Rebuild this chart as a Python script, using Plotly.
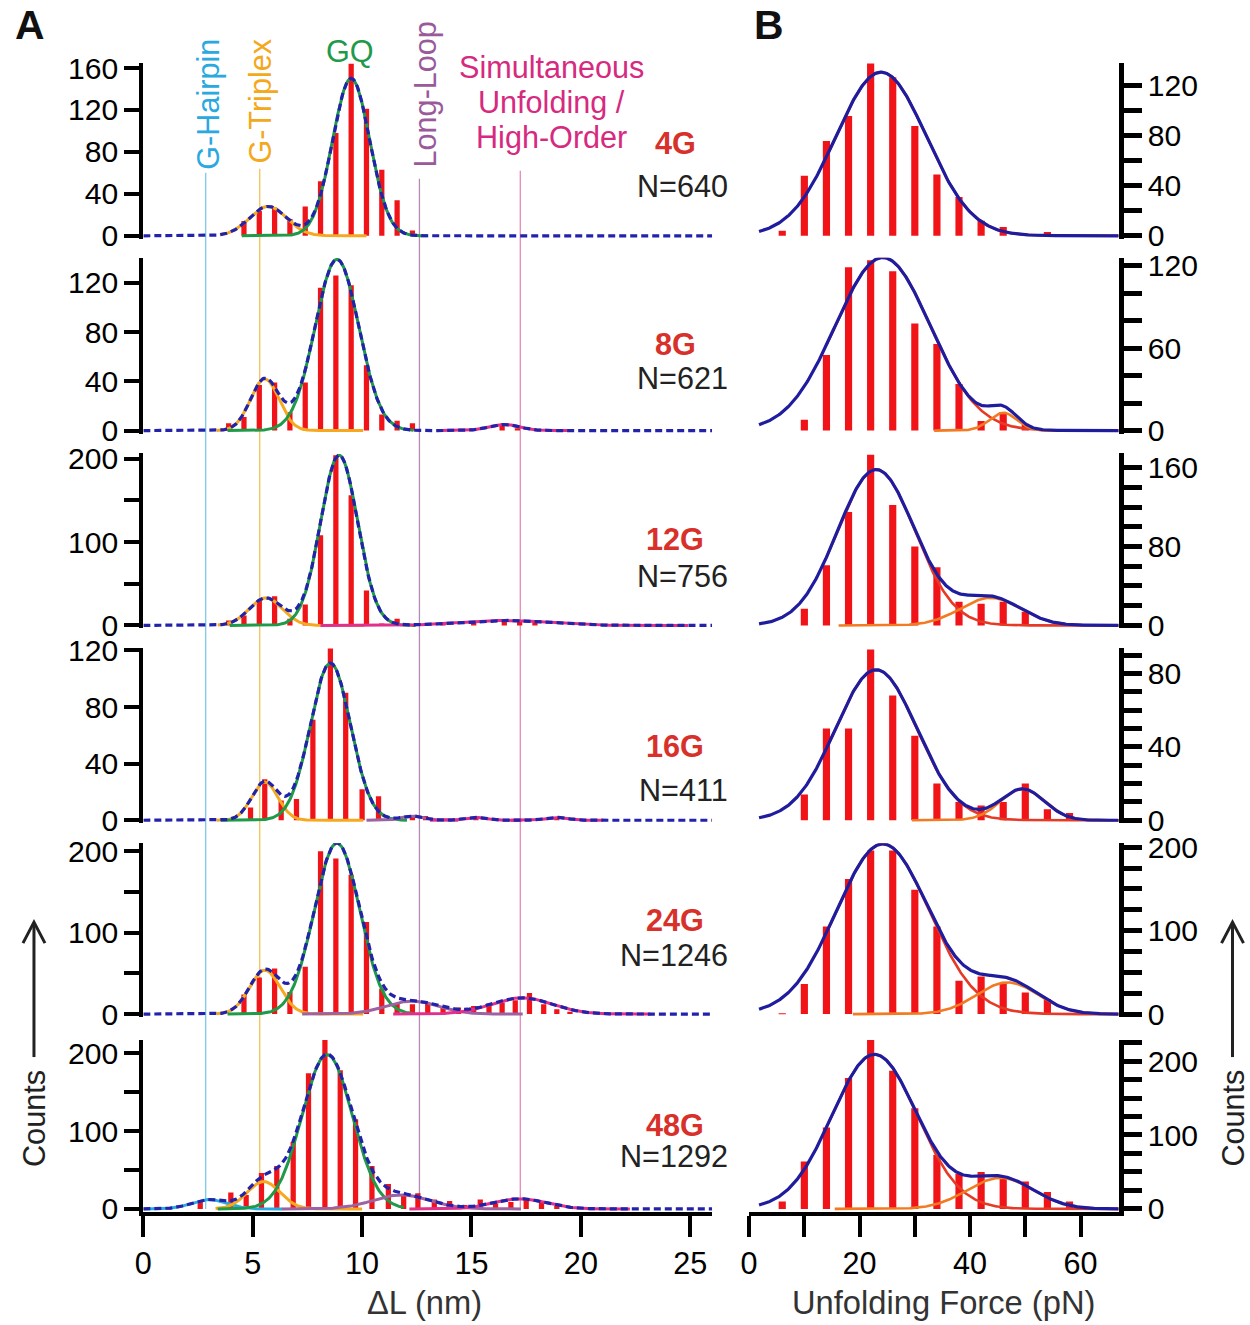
import numpy as np
import plotly.graph_objects as go

W, H = 1250, 1325

# ---------------- data ----------------
ROW_NAMES = ["4G", "8G", "12G", "16G", "24G", "48G"]
ROW_N = ["N=640", "N=621", "N=756", "N=411", "N=1246", "N=1292"]

# Panel A: ΔL histograms (bin centre nm, counts)
DL_4G_X = [4.6, 5.3, 6.0, 6.7, 7.4, 8.1, 8.8, 9.5, 10.2, 10.9, 11.6, 12.3]
DL_4G_Y = [14, 24, 27, 16, 28, 52, 98, 164, 121, 63, 34, 5]
DL_8G_X = [3.9, 4.6, 5.3, 6.0, 6.7, 7.4, 8.1, 8.8, 9.5, 10.2, 10.9, 11.6, 12.3, 16.4, 17.1]
DL_8G_Y = [6, 11, 37, 39, 15, 39, 116, 126, 118, 53, 13, 8, 6, 4, 2]
DL_12G_X = [3.9, 4.6, 5.3, 6.0, 6.7, 7.4, 8.1, 8.8, 9.5, 10.2, 10.9, 11.6, 13.7, 15.1, 16.5, 17.2, 17.9]
DL_12G_Y = [6, 12, 30, 35, 8, 25, 108, 204, 156, 42, 2, 8, 3, 4, 6, 6, 4]
DL_16G_X = [4.9, 5.55, 6.3, 7.0, 7.75, 8.55, 9.25, 10.0, 10.75, 12.3, 12.9, 15.2, 18.9]
DL_16G_Y = [9, 29, 14, 15, 71, 122, 90, 22, 17, 3, 3, 2, 2]
DL_24G_X = [4.6, 5.3, 6.0, 6.7, 7.4, 8.1, 8.8, 9.5, 10.2, 10.9, 11.6, 12.3, 13.0, 13.7,
            14.4, 15.1, 15.8, 16.4, 17.0, 17.65, 18.3, 18.9, 19.5]
DL_24G_Y = [24, 45, 56, 27, 58, 200, 191, 171, 113, 31, 13, 12, 14, 8,
            8, 10, 13, 14, 17, 26, 12, 6, 3]
DL_48G_X = [2.6, 4.0, 4.7, 5.4, 6.1, 6.85, 7.55, 8.3, 9.0, 9.7, 10.45, 11.2, 11.9, 12.55,
            13.3, 14.0, 14.7, 15.4, 16.1, 16.8, 17.5, 18.2, 18.9]
DL_48G_Y = [9, 21, 18, 46, 55, 86, 174, 220, 178, 115, 55, 32, 18, 20,
            12, 10, 5, 12, 7, 9, 12, 8, 4]

# Gaussian fit components: (population, amplitude, centre, sigma)
FIT_DL_4G = [("triplex", 28, 5.7, 0.85), ("gq", 150, 9.5, 0.85)]
FIT_DL_8G = [("triplex", 42, 5.55, 0.65), ("gq", 139, 8.85, 1.0), ("high", 5, 16.5, 0.7)]
FIT_DL_12G = [("triplex", 33, 5.6, 0.75), ("gq", 204, 8.95, 0.85), ("high", 6, 16.5, 2.0)]
FIT_DL_16G = [("triplex", 27, 5.55, 0.6), ("gq", 111, 8.55, 0.92), ("loop", 3, 12.3, 0.5),
              ("high", 2, 15.2, 0.5), ("high", 2, 18.9, 0.5)]
FIT_DL_24G = [("triplex", 54, 5.55, 0.7), ("gq", 210, 8.85, 1.04), ("loop", 16, 12.3, 1.2),
              ("high", 20, 17.3, 1.4)]
FIT_DL_48G = [("hairpin", 12, 3.0, 0.8), ("triplex", 35, 5.5, 0.75), ("gq", 198, 8.4, 1.15),
              ("loop", 18, 11.8, 1.3), ("high", 13, 17.2, 1.2)]

# Panel B: unfolding-force histograms
FORCE_BINS = [6, 10, 14, 18, 22, 26, 30, 34, 38, 42, 46, 50, 54, 58]
F_4G = [4, 48, 76, 96, 138, 127, 88, 49, 31, 12, 7, 0, 3, 0]
F_8G = [0, 8, 55, 119, 124, 116, 78, 63, 34, 7, 13, 5, 0, 0]
F_12G = [0, 17, 61, 115, 173, 122, 80, 59, 24, 22, 24, 14, 0, 0]
F_16G = [0, 14, 50, 50, 93, 68, 46, 20, 10, 8, 10, 20, 6, 4]
F_24G = [1, 36, 105, 162, 196, 196, 149, 105, 40, 45, 37, 26, 18, 0]
F_48G = [10, 64, 110, 177, 231, 187, 136, 73, 48, 50, 44, 37, 23, 10]

FIT_F_4G = [("main", 131, 23.9, 8.2)]
FIT_F_8G = [("main", 126, 24.2, 8.6), ("second", 13, 46.0, 2.5)]
FIT_F_12G = [("main", 158, 23.0, 7.0), ("second", 28, 43.7, 5.5)]
FIT_F_16G = [("main", 82, 23.0, 7.4), ("second", 17, 49.5, 4.0)]
FIT_F_24G = [("main", 204, 24.2, 8.4), ("second", 38, 46.8, 5.6)]
FIT_F_48G = [("main", 209, 22.7, 7.7), ("second", 42, 45.5, 6.0)]

# reference lines for the populations (ΔL, nm)
REF_LINES = {"hairpin": 2.85, "triplex": 5.32, "loop": 12.62, "high": 17.23}

# ---------------- styling / layout ----------------
DL_X = [DL_4G_X, DL_8G_X, DL_12G_X, DL_16G_X, DL_24G_X, DL_48G_X]
DL_Y = [DL_4G_Y, DL_8G_Y, DL_12G_Y, DL_16G_Y, DL_24G_Y, DL_48G_Y]
FIT_DL = [FIT_DL_4G, FIT_DL_8G, FIT_DL_12G, FIT_DL_16G, FIT_DL_24G, FIT_DL_48G]
F_Y = [F_4G, F_8G, F_12G, F_16G, F_24G, F_48G]
FIT_F = [FIT_F_4G, FIT_F_8G, FIT_F_12G, FIT_F_16G, FIT_F_24G, FIT_F_48G]

RED = "#f01418"
COMP_COL = {"hairpin": "#29abe2", "triplex": "#f6a81e", "gq": "#1e9a48",
            "loop": "#9c62a2", "high": "#e0308c",
            "main": "#e63a26", "second": "#f27a22"}
TOTAL_DASH = "#2222aa"
TOTAL_SOLID = "#1f1c9e"

# (zero pixel, px per count, top pixel, major dtick, minor dtick) - positions in target pixels
LEFT_ROWS = [(235, 1.05, 62, 40, None), (430, 1.233, 257, 40, None), (625, 0.835, 452, 100, 50),
             (820, 1.417, 648, 40, None), (1014, 0.815, 843, 100, 50), (1209, 0.78, 1040, 100, 50)]
RIGHT_ROWS = [(235, 1.25, 62, 40, 20), (430, 1.375, 257, 60, 20), (625, 0.9875, 452, 80, 20),
              (820, 1.8375, 648, 40, 10), (1014, 0.835, 843, 100, 25), (1209, 0.74, 1040, 100, 25)]

LX = (141.5, 711.0)
LRANGE = [0, 26]
RX = (748.0, 1118.0)
RRANGE = [0, 66.9]

FONT = "Liberation Sans, Arial, sans-serif"
NARROW = "Liberation Sans Narrow, Arial Narrow, Liberation Sans, Arial, sans-serif"

# calibration of the rendered page (observed = offset + scale * specified)
OX, SX = 7.0, 0.994
OY, SY = 14.0, 0.979


def px(x):
    return ((x - OX) / SX) / W


def py(y):
    return 1 - ((y - OY) / SY) / H


def fs(s):
    return round(s / SY, 1)


def gauss(x, a, m, s):
    return a * np.exp(-0.5 * ((x - m) / s) ** 2)


fig = go.Figure()
layout = {}

for i in range(6):
    # ---- left (ΔL) ----
    n = i + 1
    xa, ya = ("x" if n == 1 else f"x{n}"), ("y" if n == 1 else f"y{n}")
    fig.add_trace(go.Bar(x=DL_X[i], y=DL_Y[i], width=0.24, marker=dict(color=RED, line=dict(width=0)),
                         xaxis=xa, yaxis=ya, showlegend=False))
    xx = np.linspace(LRANGE[0], LRANGE[1], 600)
    total = np.zeros_like(xx)
    for kind, a, m, s in FIT_DL[i]:
        total += gauss(xx, a, m, s)
    for kind, a, m, s in FIT_DL[i]:
        lo, hi = m - 4.2 * s, m + 4.2 * s
        if kind == "gq":
            lo, hi = m - 5.0, m + 3.5
        if kind == "triplex":
            lo, hi = m - 2.2, m + 4.5
        xc = np.linspace(max(lo, 0), hi, 200)
        fig.add_trace(go.Scatter(x=xc, y=gauss(xc, a, m, s), mode="lines",
                                 line=dict(color=COMP_COL[kind], width=3),
                                 xaxis=xa, yaxis=ya, showlegend=False, hoverinfo="skip"))
    fig.add_trace(go.Scatter(x=xx, y=total, mode="lines",
                             line=dict(color=TOTAL_DASH, width=3.2, dash="7px,4px"),
                             xaxis=xa, yaxis=ya, showlegend=False, hoverinfo="skip"))

    zero, sc, top, dt, mdt = LEFT_ROWS[i]
    bottom = zero + 3
    yax = dict(domain=[py(bottom), py(top)], range=[-(bottom - zero) / sc, (zero - top) / sc],
               anchor=xa, showline=True, linewidth=4, linecolor="black", ticks="outside",
               ticklen=15, tickwidth=4, tickcolor="black", tick0=0, dtick=dt,
               showgrid=False, zeroline=False,
               tickfont=dict(family=FONT, size=fs(29.5), color="black"))
    if mdt:
        yax["minor"] = dict(ticks="outside", dtick=mdt, ticklen=15, tickwidth=4, tickcolor="black",
                            showgrid=False)
    xax = dict(domain=[px(LX[0]), px(LX[1])], range=LRANGE, anchor=ya, showgrid=False,
               zeroline=False)
    if i == 5:
        xax.update(showline=True, linewidth=4, linecolor="black", ticks="outside", ticklen=21,
                   tickwidth=4, tickcolor="black", tick0=0, dtick=5,
                   tickfont=dict(family=NARROW, size=fs(30), color="black"))
    else:
        xax.update(showline=False, showticklabels=False, ticks="")
    layout["xaxis" if n == 1 else f"xaxis{n}"] = xax
    layout["yaxis" if n == 1 else f"yaxis{n}"] = yax

    # ---- right (force) ----
    n = i + 7
    xa, ya = f"x{n}", f"y{n}"
    fig.add_trace(go.Bar(x=FORCE_BINS, y=F_Y[i], width=1.3, marker=dict(color=RED, line=dict(width=0)),
                         xaxis=xa, yaxis=ya, showlegend=False))
    xx = np.linspace(1.8, RRANGE[1], 400)
    total = np.zeros_like(xx)
    for kind, a, m, s in FIT_F[i]:
        total += gauss(xx, a, m, s)
    for kind, a, m, s in FIT_F[i]:
        lo = 14 if kind == "main" else m - 5 * s
        hi = RRANGE[1] if kind == "main" else min(m + 4.5 * s, RRANGE[1])
        xc = np.linspace(lo, hi, 300)
        fig.add_trace(go.Scatter(x=xc, y=gauss(xc, a, m, s), mode="lines",
                                 line=dict(color=COMP_COL[kind], width=2.6),
                                 xaxis=xa, yaxis=ya, showlegend=False, hoverinfo="skip"))
    fig.add_trace(go.Scatter(x=xx, y=total, mode="lines", line=dict(color=TOTAL_SOLID, width=3.2),
                             xaxis=xa, yaxis=ya, showlegend=False, hoverinfo="skip"))

    zero, sc, top, dt, mdt = RIGHT_ROWS[i]
    bottom = zero + 3
    yax = dict(domain=[py(bottom), py(top)], range=[-(bottom - zero) / sc, (zero - top) / sc],
               anchor=xa, side="right", showline=True, linewidth=5, linecolor="black",
               ticks="outside", ticklen=18, tickwidth=5, tickcolor="black", tick0=0, dtick=dt,
               showgrid=False, zeroline=False,
               tickfont=dict(family=FONT, size=fs(29.5), color="black"),
               minor=dict(ticks="outside", dtick=mdt, ticklen=18, tickwidth=5, tickcolor="black",
                          showgrid=False))
    xax = dict(domain=[px(RX[0]), px(RX[1])], range=RRANGE, anchor=ya, showgrid=False,
               zeroline=False)
    if i == 5:
        xax.update(showline=True, linewidth=4, linecolor="black", ticks="outside", ticklen=21,
                   tickwidth=4, tickcolor="black", tick0=0, dtick=20,
                   minor=dict(ticks="outside", dtick=10, ticklen=21, tickwidth=4, tickcolor="black"),
                   tickfont=dict(family=NARROW, size=fs(30), color="black"))
    else:
        xax.update(showline=False, showticklabels=False, ticks="")
    layout[f"xaxis{n}"] = xax
    layout[f"yaxis{n}"] = yax

# ---------------- reference lines ----------------
REF_TOPS = {"hairpin": 172, "triplex": 168, "loop": 178, "high": 170}
REF_COL = {"hairpin": "#7fcbe8", "triplex": "#f4c25a", "loop": "#b58ab5", "high": "#e58ab8"}
shapes = []
for k, v in REF_LINES.items():
    shapes.append(dict(type="line", xref="x", yref="paper", x0=v, x1=v, y0=py(1209), y1=py(REF_TOPS[k]),
                       line=dict(color=REF_COL[k], width=1.3), layer="below"))

# Counts arrows
for cx in (32, 1232):
    shapes.append(dict(type="line", xref="paper", yref="paper", x0=px(cx), x1=px(cx),
                       y0=py(1057), y1=py(923), line=dict(color="#222", width=3)))
    shapes.append(dict(type="path", xref="paper", yref="paper",
                       path=f"M {px(cx-11)},{py(943)} L {px(cx)},{py(922)} L {px(cx+11)},{py(943)}",
                       line=dict(color="#222", width=3)))

# ---------------- annotations ----------------
ann = []


def add_text(text, x, y, size, color, bold=False, angle=0, xanchor="center", family=FONT):
    t = f"<b>{text}</b>" if bold else text
    ann.append(dict(text=t, x=px(x), y=py(y), xref="paper", yref="paper", showarrow=False,
                    xanchor=xanchor, yanchor="middle", textangle=angle,
                    font=dict(family=family, size=fs(size), color=color)))


add_text("A", 28, 24, 40, "#111", bold=True)
add_text("B", 768, 24, 40, "#111", bold=True)
add_text("G-Hairpin", 207, 103, 30, "#2aa8e0", angle=-90)
add_text("G-Triplex", 259, 100, 30, "#f4a81c", angle=-90)
add_text("GQ", 348, 50, 30, "#1f9a4a")
add_text("Long-Loop", 424, 93, 30, "#9a5a9a", angle=-90)
add_text("Simultaneous", 550, 66, 30, "#d62a80")
add_text("Unfolding /", 550, 102, 30, "#d62a80")
add_text("High-Order", 550, 137, 30, "#d62a80")

G_Y = [142, 343, 538, 746, 920, 1125]
N_Y = [185, 377, 576, 790, 955, 1156]
for i in range(6):
    add_text(ROW_NAMES[i], 674, G_Y[i], 30, "#d8302a", bold=True)
    add_text(ROW_N[i], 729, N_Y[i], 30, "#222", xanchor="right")

add_text("ΔL (nm)", 423, 1303, 32, "#333", family=NARROW)
add_text("Unfolding Force (pN)", 943, 1303, 32, "#333", family=NARROW)
add_text("Counts", 32, 1118, 30, "#222", angle=-90)
add_text("Counts", 1232, 1118, 30, "#222", angle=-90)

fig.update_layout(width=W, height=H, margin=dict(l=0, r=0, t=0, b=0),
                  paper_bgcolor="white", plot_bgcolor="rgba(0,0,0,0)",
                  showlegend=False, barmode="overlay", shapes=shapes, annotations=ann,
                  **layout)

fig.write_html("out.html")
